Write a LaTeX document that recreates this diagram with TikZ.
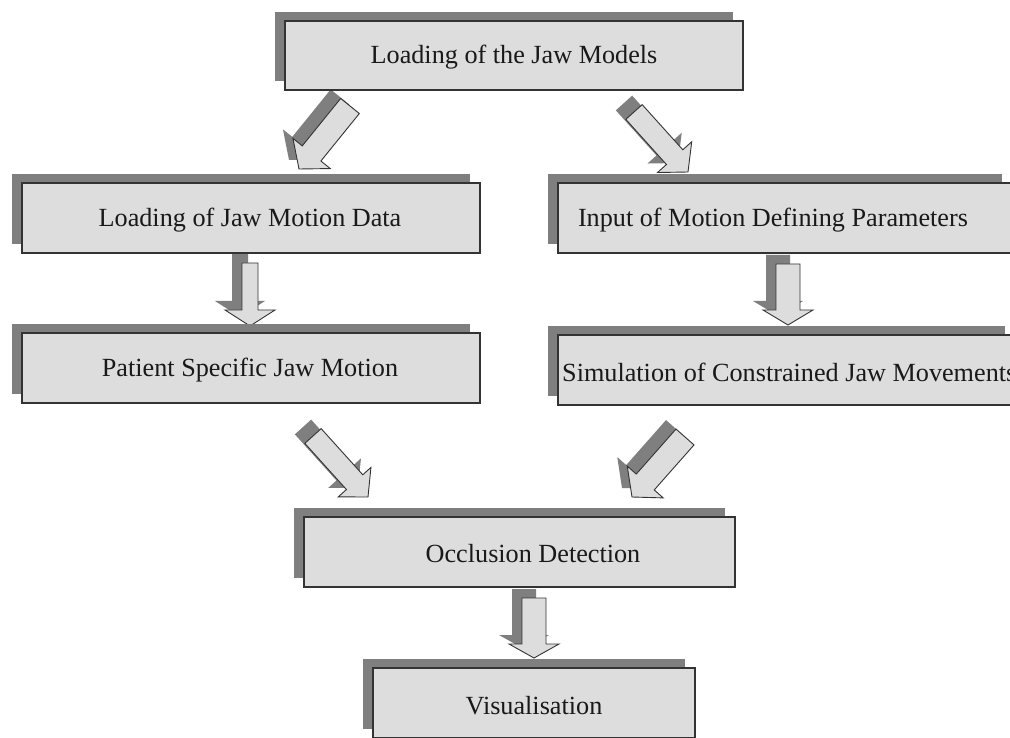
\documentclass[tikz,border=0pt]{standalone}
\usepackage{fontspec}
\setmainfont{Liberation Serif}
\usetikzlibrary{calc,shadows}
\definecolor{boxfill}{HTML}{DDDDDD}
\definecolor{shade}{HTML}{7F7F7F}
\definecolor{edge}{HTML}{333333}
\tikzset{
  box/.style={draw=edge, line width=1.1pt, fill=boxfill, minimum height=70pt, inner sep=0pt,
    copy shadow={shadow xshift=-10pt, shadow yshift=9pt, fill=shade, draw=none}},
  lbl/.style={font=\fontsize{26.2}{31}\selectfont, text=black!90, inner sep=0pt},
  arrowface/.style={draw=edge, line width=0.9pt, fill=boxfill, line join=miter},
  arrowshade/.style={fill=shade},
}
\newcommand\blkpath[6]{%
  \coordinate (bB) at ($(#2)!#5pt!(#1)$);
  \path[#6] ($(#1)!#3pt!90:(#2)$) -- ($(bB)!#3pt!90:(#2)$) -- ($(bB)!#4pt!90:(#2)$) -- (#2)
    -- ($(bB)!#4pt!-90:(#2)$) -- ($(bB)!#3pt!-90:(#2)$) -- ($(#1)!#3pt!-90:(#2)$) -- cycle;
}
\newcommand\blkarrow[7]{%
  \coordinate (aT) at (#1,#2); \coordinate (aP) at (#3,#4);
  \coordinate (aTs) at ({#1-10},{#2-9}); \coordinate (aPs) at ({#3-10},{#4-9});
  \blkpath{aTs}{aPs}{#5}{#6}{#7}{arrowshade}
  \blkpath{aT}{aP}{#5}{#6}{#7}{arrowface}
}
\begin{document}
\begin{tikzpicture}[x=1pt,y=-1pt]
\clip (0,0) rectangle (1010,738);
\fill[white] (0,0) rectangle (1010,738);
% block arrows
\blkarrow{350}{106}{299}{169}{12}{24}{20}
\blkarrow{634}{112}{688}{172}{11}{23}{20}
\blkarrow{250}{263}{250}{326}{8}{25}{16}
\blkarrow{788}{264}{788}{325}{12}{25}{15}
\blkarrow{313}{436}{368}{497}{11}{22}{20}
\blkarrow{685}{437}{632}{497}{12}{24}{20}
\blkarrow{534}{598}{534}{658}{12}{25}{14}
% boxes
\node[box, minimum width=458pt, minimum height=69pt] (b1) at (514,55.5) {};
\node[box, minimum width=458pt] (b2) at (251,218) {};
\node[box, minimum width=454pt] (b3) at (785,218) {};
\node[box, minimum width=458pt] (b4) at (251,368) {};
\node[box, minimum width=457pt] (b5) at (786.5,370) {};
\node[box, minimum width=431pt] (b6) at (519.5,552) {};
\node[box, minimum width=322pt] (b7) at (534,703) {};
% labels
\node[lbl] (t1) at (514,57) {Loading of the Jaw Models};
\node[lbl] (t2) at (250,220) {Loading of Jaw Motion Data};
\node[lbl] (t3) at (773,220) {Input of Motion Defining Parameters};
\node[lbl] (t4) at (250,370) {Patient Specific Jaw Motion};
\node[lbl, anchor=west] (t5) at (562,372) {Simulation of Constrained Jaw Movements};
\node[lbl] (t6) at (533,554) {Occlusion Detection};
\node[lbl] (t7) at (534,706) {Visualisation};
\end{tikzpicture}
\end{document}
